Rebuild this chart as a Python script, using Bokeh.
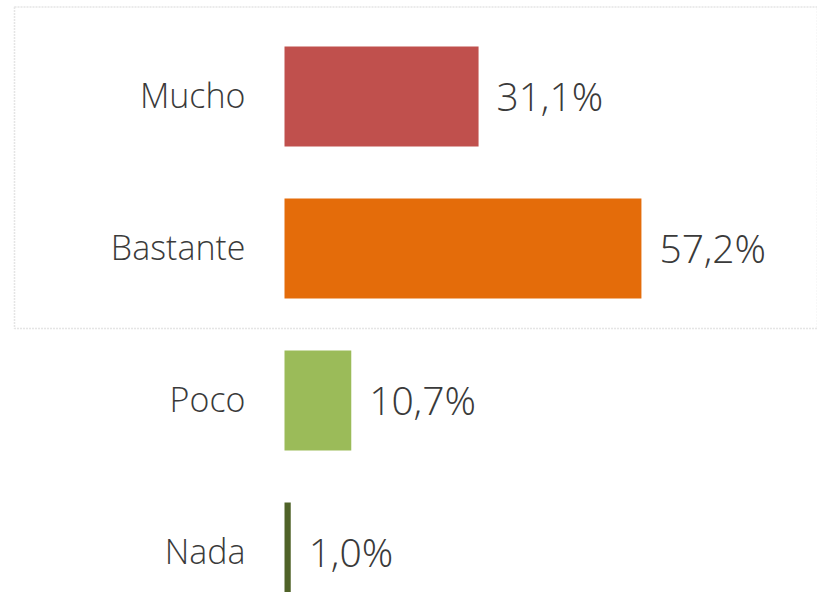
from bokeh.plotting import figure
from bokeh.models import ColumnDataSource, Range1d, BoxAnnotation
from bokeh.core.properties import value
from bokeh.embed import file_html
from bokeh.resources import INLINE

# ---- data ----
categories = ["Mucho", "Bastante", "Poco", "Nada"]
percentages = [31.1, 57.2, 10.7, 1.0]
value_labels = ["31,1%", "57,2%", "10,7%", "1,0%"]
colors = ["#C0504D", "#E46C0A", "#9BBB59", "#4F6228"]

# ---- layout (pixels) ----
W, H = 817, 592
PX_PER_PCT = 6.24
ZERO_PX = 284
BAND_PX = 152
FIRST_CENTER_PX = 96
BAR_PX = 100

n = len(categories)
ypos = [n - 1 - i for i in range(n)]
x_start = -ZERO_PX / PX_PER_PCT
x_end = (W - ZERO_PX) / PX_PER_PCT
y_end = (n - 1) + FIRST_CENTER_PX / BAND_PX
y_start = y_end - H / BAND_PX

src = ColumnDataSource(dict(y=ypos, v=percentages, cat=categories,
                            lab=value_labels, color=colors))

p = figure(width=W, height=H, x_range=Range1d(x_start, x_end),
           y_range=Range1d(y_start, y_end), x_axis_type=None, y_axis_type=None,
           min_border=0, toolbar_location=None, output_backend="svg")
p.grid.visible = False
p.outline_line_color = None
p.background_fill_color = "white"
p.border_fill_color = "white"

# dotted selection-like frame
box = BoxAnnotation(left=(14 - ZERO_PX) / PX_PER_PCT,
                    top=y_end - 6.5 / BAND_PX,
                    bottom=y_end - 328 / BAND_PX,
                    fill_color=None, line_color="#a8a8a8",
                    line_dash="2 1", line_width=1.5)
p.add_layout(box)

p.hbar(y="y", left=0, right="v", height=BAR_PX / BAND_PX, fill_color="color",
       line_color=None, source=src)

p.text(x=0, y="y", text="cat", x_offset=-39, y_offset=-2, text_align="right",
       text_baseline="middle", text_font=value("Open Sans Light"),
       text_font_size="34px", text_color="#3a3a3a", source=src)

p.text(x="v", y="y", text="lab", x_offset=18, y_offset=-1, text_align="left",
       text_baseline="middle", text_font=value("Open Sans Light"),
       text_font_size="39px", text_color="#3a3a3a", source=src)

open("out.html", "w").write(file_html(p, INLINE))
